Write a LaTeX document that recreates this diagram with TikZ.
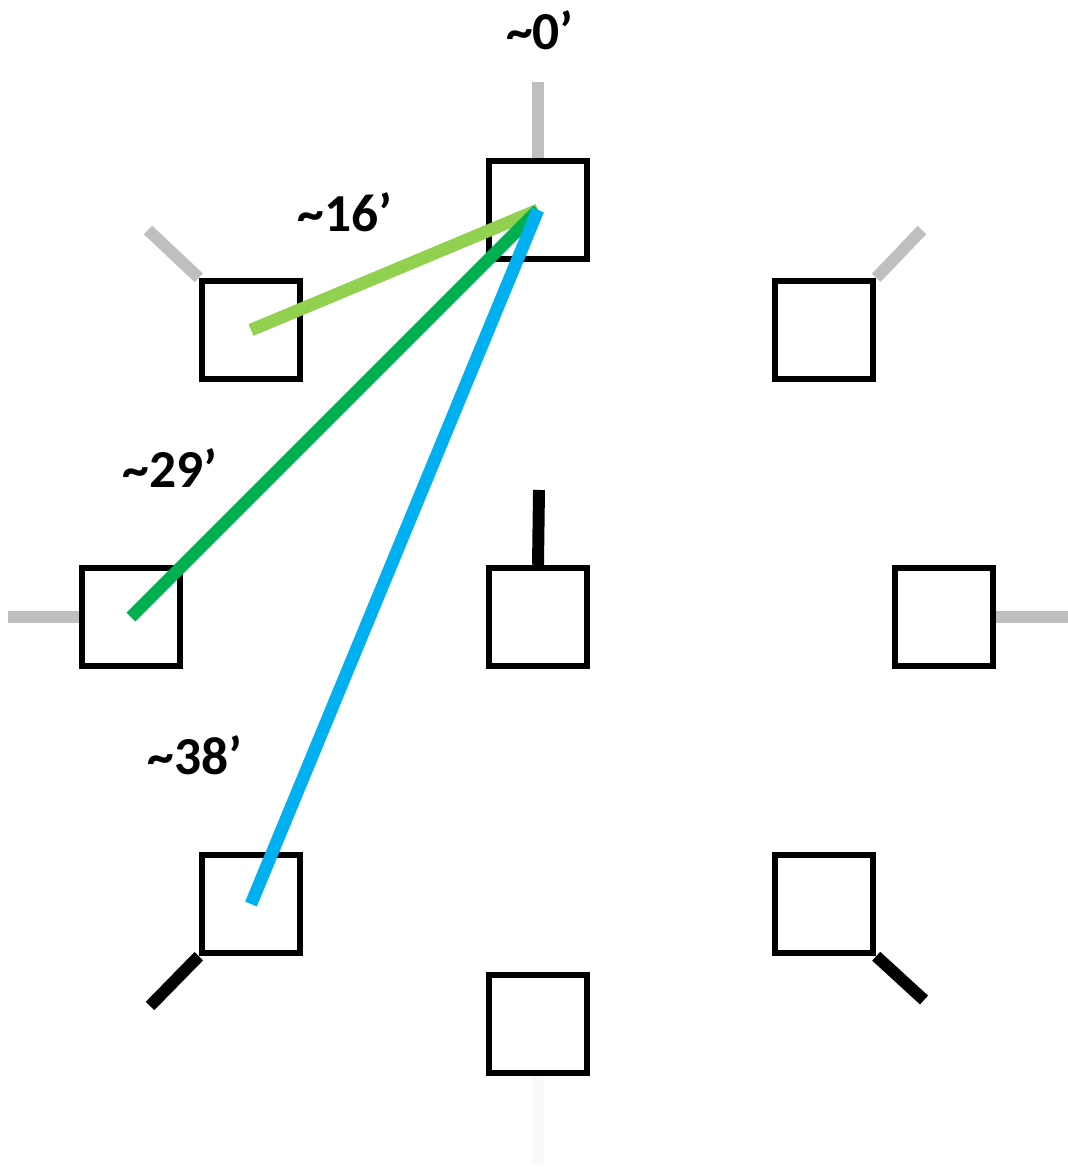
\documentclass[tikz,border=0pt]{standalone}
\usepackage{fontspec}
\setmainfont{Carlito}
\usetikzlibrary{positioning}

\tikzset{
	mic/.style={draw=black, line width=1.8pt, minimum size=0.98cm, inner sep=0pt},
	stubgray/.style={draw=black!25, line width=3.4pt},
	stubblack/.style={draw=black, line width=3.4pt},
	dist/.style={line width=3.6pt},
	distlabel/.style={font=\bfseries\fontsize{15.2}{17}\selectfont, text=black}
}

\begin{document}
\begin{tikzpicture}[x=0.01cm, y=-0.01cm]
	% Rahmen
	\useasboundingbox (0,0) rectangle (1068,1167);

	% Quadrate
	\node[mic] (n)  at (538,210)  {};
	\node[mic] (nw) at (251,330)  {};
	\node[mic] (ne) at (824,330)  {};
	\node[mic] (w)  at (131,617)  {};
	\node[mic] (c)  at (538,617)  {};
	\node[mic] (e)  at (944,617)  {};
	\node[mic] (sw) at (251,904)  {};
	\node[mic] (se) at (824,904)  {};
	\node[mic] (s)  at (538,1024) {};

	% Endpunkte der Stummel
	\coordinate (nEnd)  at (538,82);
	\coordinate (nwEnd) at (148,230);
	\coordinate (neEnd) at (922,230);
	\coordinate (wEnd)  at (8,617);
	\coordinate (eEnd)  at (1068,617);
	\coordinate (cEnd)  at (539,490);
	\coordinate (swEnd) at (150,1006);
	\coordinate (seEnd) at (924,1000);
	\coordinate (sEnd)  at (538,1165);

	% Stummel (grau)
	\draw[stubgray] (n.north) -- (nEnd);
	\draw[stubgray] (nw.north west) -- (nwEnd);
	\draw[stubgray] (ne.north east) -- (neEnd);
	\draw[stubgray] (w.west) -- (wEnd);
	\draw[stubgray] (e.east) -- (eEnd);
	\draw[draw=black!2, line width=3.4pt] (s.south) -- (sEnd);

	% Stummel (schwarz)
	\draw[stubblack] (c.north) -- (cEnd);
	\draw[stubblack] (sw.south west) -- (swEnd);
	\draw[stubblack] (se.south east) -- (seEnd);

	% Abstaende
	\draw[dist, color={rgb,255:red,146;green,208;blue,80}] (n.center) -- (nw.center);
	\draw[dist, color={rgb,255:red,0;green,176;blue,80}] (n.center) -- (w.center);
	\draw[dist, color={rgb,255:red,0;green,176;blue,240}] (n.center) -- (sw.center);

	% Beschriftungen
	\node[distlabel] (l0)  at (540,30)  {\textasciitilde0’};
	\node[distlabel] (l16) at (345,212) {\textasciitilde16’};
	\node[distlabel] (l29) at (170,468) {\textasciitilde29’};
	\node[distlabel] (l38) at (195,755) {\textasciitilde38’};
\end{tikzpicture}
\end{document}
